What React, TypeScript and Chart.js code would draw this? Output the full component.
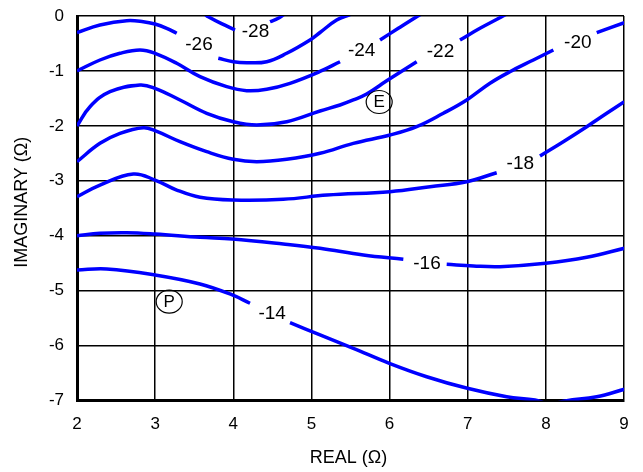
import React, { useEffect, useRef } from 'react';
import { Chart, registerables } from 'chart.js';

Chart.register(...registerables);

type Pt = [number, number];

// Axis ticks
const xTickValues = [2, 3, 4, 5, 6, 7, 8, 9];
const xTickLabels = ['2', '3', '4', '5', '6', '7', '8', '9'];
const yTickValues = [-7, -6, -5, -4, -3, -2, -1, 0];
const yTickLabels = ['-7', '-6', '-5', '-4', '-3', '-2', '-1', '0'];

// Contour lines (REAL, IMAGINARY); each contour is split where its level label sits
const level28: Pt[][] = [
  [[3.638, 0.03], [3.68, -0.013], [3.85, -0.14], [4.022, -0.255]],
  [[4.47, -0.104], [4.576, -0.042], [4.65, 0.03]],
];
const level26: Pt[][] = [
  [[2.0, -0.3], [2.294, -0.164], [2.636, -0.086], [2.848, -0.104], [2.998, -0.146], [3.148, -0.224], [3.276, -0.315]],
  [[3.808, -0.77], [4.0, -0.832], [4.172, -0.85], [4.428, -0.832], [4.684, -0.679], [4.982, -0.437], [5.11, -0.3], [5.323, -0.073], [5.5, 0.03]],
];
const level24: Pt[][] = [
  [[2.0, -1.0], [2.294, -0.801], [2.55, -0.679], [2.806, -0.619], [2.998, -0.679], [3.276, -0.861], [3.574, -1.105], [3.916, -1.287], [4.172, -1.36], [4.428, -1.334], [4.726, -1.225], [5.11, -1.01], [5.366, -0.832]],
  [[5.878, -0.437], [6.112, -0.224], [6.347, -0.013], [6.4, 0.03]],
];
const level22: Pt[][] = [
  [[2.0, -2.003], [2.166, -1.651], [2.422, -1.378], [2.806, -1.256], [2.998, -1.316], [3.318, -1.529], [3.66, -1.771], [4.0, -1.924], [4.3, -1.984], [4.684, -1.924], [5.11, -1.73], [5.366, -1.62], [5.536, -1.529], [5.707, -1.42], [5.963, -1.18], [6.347, -0.832]],
  [[6.901, -0.437], [7.157, -0.224], [7.435, -0.013], [7.49, 0.03]],
];
const level20: Pt[][] = [
  [[2.0, -2.652], [2.294, -2.318], [2.55, -2.136], [2.848, -2.033], [2.998, -2.088], [3.318, -2.288], [3.66, -2.47], [4.0, -2.609], [4.3, -2.652], [4.684, -2.609], [5.11, -2.5], [5.536, -2.318], [6.006, -2.166], [6.347, -2.015], [6.688, -1.771], [6.987, -1.529], [7.285, -1.225], [7.541, -1.014], [7.84, -0.801], [8.096, -0.619]],
  [[8.651, -0.304], [9.004, -0.122]],
];
const level18: Pt[][] = [
  [[2.0, -3.29], [2.294, -3.077], [2.721, -2.876], [2.998, -2.986], [3.276, -3.168], [3.574, -3.3], [4.0, -3.35], [4.64, -3.337], [5.2, -3.26], [6.006, -3.198], [6.518, -3.107], [6.987, -3.017], [7.371, -2.853]],
  [[7.925, -2.549], [8.223, -2.288], [8.523, -2.015], [8.779, -1.771], [9.004, -1.56]],
];
const level16: Pt[][] = [
  [[2.0, -4.0], [2.294, -3.956], [2.636, -3.945], [2.998, -3.969], [3.574, -4.029], [3.987, -4.06], [4.64, -4.151], [5.11, -4.229], [5.664, -4.351], [6.176, -4.429]],
  [[6.731, -4.52], [7.072, -4.551], [7.413, -4.564], [7.998, -4.502], [8.523, -4.393], [9.004, -4.229]],
];
const level14: Pt[][] = [
  [[2.0, -4.624], [2.38, -4.606], [2.998, -4.715], [3.574, -4.879], [3.987, -5.079], [4.214, -5.23]],
  [[4.726, -5.584], [5.11, -5.807], [5.536, -6.05], [5.997, -6.323], [6.475, -6.567], [6.995, -6.778], [7.499, -6.931], [7.861, -6.991], [8.05, -7.06], [8.267, -7.003], [8.651, -6.931], [9.004, -6.796]],
];

const contours = [level28, level26, level24, level22, level20, level18, level16, level14];

// Level labels and where they are written
const levelLabels = ['-28', '-26', '-24', '-22', '-20', '-18', '-16', '-14'];
const levelLabelX = [4.284, 3.561, 5.643, 6.652, 8.409, 7.673, 6.479, 4.498];
const levelLabelY = [-0.286, -0.528, -0.634, -0.643, -0.488, -2.682, -4.511, -5.425];

// Circled point markers
const markerNames = ['E', 'P'];
const markerX = [5.867, 3.18];
const markerY = [-1.566, -5.201];

const FONT = '"Liberation Sans", Arial, Helvetica, sans-serif';
const LINE_BLUE = '#0000ff';

const overlayPlugin = {
  id: 'contourOverlay',
  afterDatasetsDraw(chart: any) {
    const { ctx, scales } = chart;
    const xs = scales.x;
    const ys = scales.y;
    ctx.save();
    ctx.fillStyle = '#000';
    ctx.textAlign = 'center';
    ctx.textBaseline = 'middle';
    ctx.font = `19px ${FONT}`;
    levelLabels.forEach((t, i) => {
      ctx.fillText(t, xs.getPixelForValue(levelLabelX[i]), ys.getPixelForValue(levelLabelY[i]));
    });
    ctx.font = `17px ${FONT}`;
    ctx.strokeStyle = '#000';
    ctx.lineWidth = 1.2;
    markerNames.forEach((t, i) => {
      const px = xs.getPixelForValue(markerX[i]);
      const py = ys.getPixelForValue(markerY[i]);
      ctx.beginPath();
      ctx.ellipse(px, py, 13, 11.5, 0, 0, Math.PI * 2);
      ctx.stroke();
      ctx.fillText(t, px, py + 0.5);
    });
    ctx.restore();
  },
  afterDraw(chart: any) {
    const { ctx, chartArea } = chart;
    ctx.save();
    ctx.fillStyle = '#000';
    ctx.font = `18px ${FONT}`;
    ctx.textAlign = 'center';
    ctx.textBaseline = 'middle';
    ctx.fillText('REAL (Ω)', (chartArea.left + chartArea.right) / 2 - 2, chartArea.bottom + 58);
    ctx.translate(22, (chartArea.top + chartArea.bottom) / 2 - 6);
    ctx.rotate(-Math.PI / 2);
    ctx.fillText('IMAGINARY (Ω)', 0, 0);
    ctx.restore();
  },
};

export default function App() {
  const canvasRef = useRef<HTMLCanvasElement>(null);

  useEffect(() => {
    const canvas = canvasRef.current;
    if (!canvas) return;

    const datasets: any[] = [];
    contours.forEach((segments) => {
      segments.forEach((seg) => {
        datasets.push({
          data: seg.map(([x, y]) => ({ x, y })),
          showLine: true,
          borderColor: LINE_BLUE,
          borderWidth: 3.5,
          pointRadius: 0,
          pointHoverRadius: 0,
          tension: 0.4,
          fill: false,
          clip: 0,
        });
      });
    });

    const chart = new Chart(canvas, {
      type: 'scatter',
      data: { datasets },
      options: {
        responsive: false,
        animation: false,
        devicePixelRatio: 1,
        events: [],
        layout: { padding: { left: 0, right: 19, top: 16, bottom: 0 } },
        plugins: {
          legend: { display: false },
          tooltip: { enabled: false },
          title: { display: false },
        },
        scales: {
          x: {
            type: 'linear',
            min: 2,
            max: 9,
            afterFit: (scale: any) => {
              scale.height = 71.5;
              scale.paddingLeft = 0;
              scale.paddingRight = 0;
            },
            afterBuildTicks: (scale: any) => {
              scale.ticks = xTickValues.map((v) => ({ value: v }));
            },
            ticks: {
              autoSkip: false,
              maxRotation: 0,
              padding: 14,
              color: '#000',
              font: { family: FONT, size: 17 },
              callback: (v: any) => xTickLabels[xTickValues.indexOf(Number(v))],
            },
            grid: { color: '#000', lineWidth: 1.5, drawTicks: false },
            border: { display: true, color: '#000', width: 3 },
          },
          y: {
            type: 'linear',
            min: -7,
            max: 0,
            afterFit: (scale: any) => {
              scale.width = 77;
              scale.paddingTop = 0;
              scale.paddingBottom = 0;
            },
            afterBuildTicks: (scale: any) => {
              scale.ticks = yTickValues.map((v) => ({ value: v }));
            },
            ticks: {
              autoSkip: false,
              padding: 13,
              color: '#000',
              font: { family: FONT, size: 17 },
              callback: (v: any) => yTickLabels[yTickValues.indexOf(Number(v))],
            },
            grid: { color: '#000', lineWidth: 1.5, drawTicks: false },
            border: { display: true, color: '#000', width: 3 },
          },
        },
      } as any,
      plugins: [overlayPlugin],
    });

    return () => chart.destroy();
  }, []);

  return (
    <div style={{ position: 'absolute', left: 0, top: 0, width: 643, height: 472, background: '#fff' }}>
      <canvas ref={canvasRef} width={643} height={472} style={{ display: 'block' }} />
    </div>
  );
}
